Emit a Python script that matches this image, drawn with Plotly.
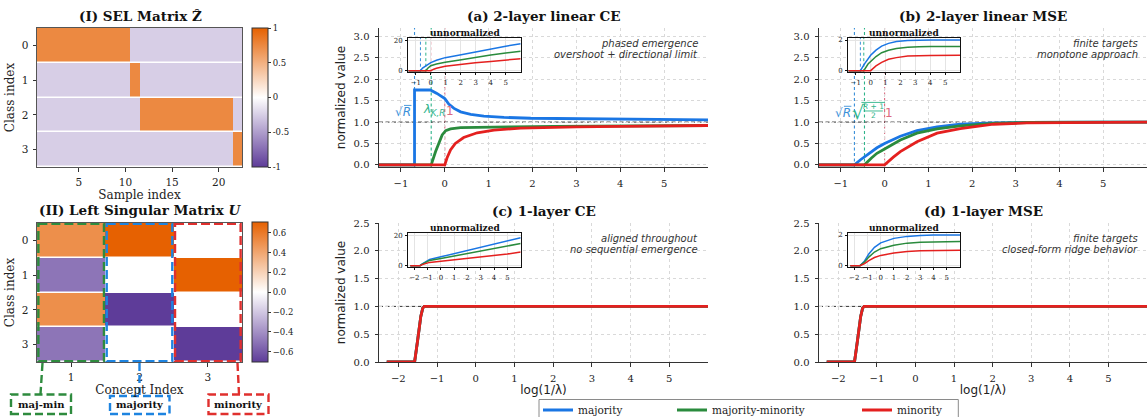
import plotly.graph_objects as go

W, H = 1147, 417
SERIF = "DejaVu Serif"
SANS = "DejaVu Sans"

BLUE, GREEN, RED = "#1a76e4", "#2a8b3d", "#e4201f"
BLUE_REF, GREEN_REF, RED_REF = "#3a8fd8", "#2fb48a", "#dc6a80"
BOX_GREEN, BOX_BLUE, BOX_RED = "#2e8b3e", "#1e84e0", "#e0302e"

# ---------------- data ----------------
sample_idx = list(range(1, 23))
class_idx = [0, 1, 2, 3]
concept_idx = [1, 2, 3]

sel_row0 = [0.75, 0.75, 0.75, 0.75, 0.75, 0.75, 0.75, 0.75, 0.75, 0.75, -0.25,
            -0.25, -0.25, -0.25, -0.25, -0.25, -0.25, -0.25, -0.25, -0.25, -0.25, -0.25]
sel_row1 = [-0.25, -0.25, -0.25, -0.25, -0.25, -0.25, -0.25, -0.25, -0.25, -0.25, 0.75,
            -0.25, -0.25, -0.25, -0.25, -0.25, -0.25, -0.25, -0.25, -0.25, -0.25, -0.25]
sel_row2 = [-0.25, -0.25, -0.25, -0.25, -0.25, -0.25, -0.25, -0.25, -0.25, -0.25, -0.25,
            0.75, 0.75, 0.75, 0.75, 0.75, 0.75, 0.75, 0.75, 0.75, 0.75, -0.25]
sel_row3 = [-0.25, -0.25, -0.25, -0.25, -0.25, -0.25, -0.25, -0.25, -0.25, -0.25, -0.25,
            -0.25, -0.25, -0.25, -0.25, -0.25, -0.25, -0.25, -0.25, -0.25, -0.25, 0.75]

u_maj_min = [0.5, -0.5, 0.5, -0.5]
u_majority = [0.707, 0.0, -0.707, 0.0]
u_minority = [0.0, 0.707, 0.0, -0.707]

series_names = ["majority", "majority-minority", "minority"]

# (a) 2-layer linear CE, normalized
ce2_maj_x = [-1.5, -0.69, -0.69, -0.33, -0.18, 0.0, 0.09, 0.21, 0.36, 0.59, 0.89, 1.35, 1.96, 3.0, 4.0, 5.0, 6.0]
ce2_maj_y = [0, 0, 1.75, 1.75, 1.67, 1.55, 1.42, 1.32, 1.24, 1.18, 1.14, 1.11, 1.09, 1.08, 1.07, 1.06, 1.05]
ce2_mix_x = [-1.5, -0.31, -0.21, -0.13, -0.06, 0.02, 0.13, 0.36, 0.8, 1.5, 2.5, 4.0, 6.0]
ce2_mix_y = [0, 0, 0.31, 0.54, 0.70, 0.80, 0.84, 0.87, 0.88, 0.89, 0.90, 0.91, 0.92]
ce2_min_x = [-1.5, 0.0, 0.05, 0.13, 0.24, 0.43, 0.74, 1.12, 1.73, 2.5, 3.0, 4.0, 5.0, 6.0]
ce2_min_y = [0, 0, 0.16, 0.35, 0.50, 0.64, 0.75, 0.81, 0.86, 0.88, 0.89, 0.90, 0.91, 0.92]
ce2_thresholds = [-0.69, -0.31, 0.0]

# (a) inset, unnormalized
ce2u_maj_x = [-1.5, -0.69, -0.55, -0.4, -0.2, 0.0, 0.38, 0.96, 1.94, 2.97, 4.0, 5.0, 6.0]
ce2u_maj_y = [0, 0, 1.8, 2.9, 4.3, 5.4, 7.0, 8.7, 10.4, 12.5, 14.5, 16.3, 18.0]
ce2u_mix_x = [-1.5, -0.33, -0.2, 0.0, 0.38, 0.96, 1.94, 2.97, 4.0, 5.0, 6.0]
ce2u_mix_y = [0, 0, 1.6, 3.3, 4.4, 5.6, 7.1, 8.9, 10.4, 11.8, 12.9]
ce2u_min_x = [-1.5, 0.0, 0.2, 0.38, 0.96, 1.94, 2.97, 4.0, 5.0, 6.0]
ce2u_min_y = [0, 0, 1.0, 1.6, 2.9, 4.2, 5.3, 6.2, 7.1, 8.0]
ce2u_thresholds = [-0.69, -0.33, 0.0]

# (b) 2-layer linear MSE, normalized
mse2_maj_x = [-1.5, -0.69, -0.55, -0.40, -0.175, 0.0, 0.36, 0.74, 1.2, 1.73, 2.49, 3.25, 4.0, 5.0, 6.0]
mse2_maj_y = [0, 0, 0.12, 0.23, 0.40, 0.50, 0.67, 0.80, 0.89, 0.95, 0.98, 0.99, 1.0, 1.0, 1.0]
mse2_mix_x = [-1.5, -0.46, -0.3, -0.175, 0.0, 0.36, 0.74, 1.2, 1.73, 2.49, 3.25, 4.0, 5.0, 6.0]
mse2_mix_y = [0, 0, 0.16, 0.27, 0.37, 0.58, 0.74, 0.84, 0.91, 0.97, 0.99, 1.0, 1.0, 1.0]
mse2_min_x = [-1.5, 0.0, 0.2, 0.36, 0.74, 1.2, 1.73, 2.49, 3.25, 4.0, 5.0, 6.0]
mse2_min_y = [0, 0, 0.18, 0.31, 0.54, 0.74, 0.85, 0.95, 0.98, 0.99, 1.0, 1.0]
mse2_thresholds = [-0.69, -0.46, 0.0]

# (b) inset, unnormalized
mse2u_maj_x = [-1.5, -0.69, -0.4, -0.175, 0.0, 0.36, 0.74, 1.2, 1.73, 2.49, 3.25, 4.0, 6.0]
mse2u_maj_y = [0, 0, 0.46, 0.80, 1.0, 1.34, 1.6, 1.78, 1.9, 1.96, 1.98, 2.0, 2.0]
mse2u_mix_x = [-1.5, -0.46, -0.175, 0.0, 0.36, 0.74, 1.2, 1.73, 2.49, 3.25, 4.0, 6.0]
mse2u_mix_y = [0, 0, 0.43, 0.58, 0.92, 1.17, 1.33, 1.44, 1.53, 1.56, 1.58, 1.58]
mse2u_min_x = [-1.5, 0.0, 0.36, 0.74, 1.2, 1.73, 2.49, 3.25, 4.0, 6.0]
mse2u_min_y = [0, 0, 0.31, 0.54, 0.74, 0.85, 0.95, 0.98, 0.99, 1.0]

# (c) 1-layer CE and (d) 1-layer MSE, normalized (all three coincide)
ce1_x = [-2.3, -1.58, -1.5, -1.42, -1.37, -1.33, 6.0]
ce1_maj_y = [0, 0, 0.40, 0.82, 0.97, 1.0, 1.0]
ce1_mix_y = [0, 0, 0.40, 0.82, 0.97, 1.0, 1.0]
ce1_min_y = [0, 0, 0.40, 0.82, 0.97, 1.0, 1.0]
mse1_x = [-2.3, -1.58, -1.5, -1.42, -1.37, -1.33, 6.0]
mse1_maj_y = [0, 0, 0.40, 0.82, 0.97, 1.0, 1.0]
mse1_mix_y = [0, 0, 0.40, 0.82, 0.97, 1.0, 1.0]
mse1_min_y = [0, 0, 0.40, 0.82, 0.97, 1.0, 1.0]

# (c) inset, unnormalized
ce1u_x = [-2.3, -1.57, -1.4, -1.11, -0.85, 0.0, 1.0, 2.0, 3.0, 4.0, 5.0, 6.0]
ce1u_maj_y = [0, 0, 1.2, 3.0, 4.1, 5.9, 8.0, 10.0, 12.2, 14.3, 16.5, 18.7]
ce1u_mix_y = [0, 0, 1.0, 2.6, 3.5, 4.8, 6.5, 8.3, 10.0, 11.5, 13.3, 14.8]
ce1u_min_y = [0, 0, 0.7, 1.7, 2.2, 3.0, 3.9, 4.8, 5.7, 6.7, 7.8, 9.1]

# (d) inset, unnormalized
mse1u_x = [-2.3, -1.57, -1.22, -0.9, -0.47, 0.0, 1.0, 2.0, 3.0, 4.0, 6.0]
mse1u_maj_y = [0, 0, 0.31, 0.76, 1.2, 1.49, 1.78, 1.91, 1.97, 2.0, 2.0]
mse1u_mix_y = [0, 0, 0.24, 0.56, 0.89, 1.11, 1.33, 1.47, 1.53, 1.56, 1.58]
mse1u_min_y = [0, 0, 0.13, 0.33, 0.53, 0.67, 0.82, 0.93, 0.98, 1.0, 1.0]

cb1_vals = [1, 0.5, 0, -0.5, -1]
cb1_text = ["1", "0.5", "0", "-0.5", "-1"]
cb2_vals = [0.6, 0.4, 0.2, 0.0, -0.2, -0.4, -0.6]
cb2_text = ["0.6", "0.4", "0.2", "0.0", "\u22120.2", "\u22120.4", "\u22120.6"]


# ---------------- helpers ----------------
def fx(p):
    return p / W


def fy(p):
    return 1 - p / H


PUOR = [[0.0, "#5e3c99"], [0.5, "#ffffff"], [1.0, "#e66101"]]
fig = go.Figure()
shapes = []
annotations = []


def colorbar(top, bottom, vals, text):
    return dict(x=fx(252), xanchor="left", y=fy((top + bottom) / 2), yanchor="middle",
                len=(bottom - top) / H, lenmode="fraction", thickness=16, thicknessmode="pixels",
                xpad=0, ypad=0, outlinewidth=1, outlinecolor="#333", tickvals=vals, ticktext=text,
                ticks="outside", ticklen=3, tickcolor="#333",
                tickfont=dict(family=SERIF, size=8.5, color="#222"))


fig.add_trace(go.Heatmap(z=[sel_row0, sel_row1, sel_row2, sel_row3], x=sample_idx, y=class_idx,
                         zmin=-1, zmax=1, colorscale=PUOR, ygap=1.5, xaxis="x", yaxis="y",
                         colorbar=colorbar(28, 167, cb1_vals, cb1_text), hoverinfo="skip"))

u_rows = [[u_maj_min[i], u_majority[i], u_minority[i]] for i in range(4)]
fig.add_trace(go.Heatmap(z=u_rows, x=concept_idx, y=class_idx, zmin=-0.707, zmax=0.707,
                         colorscale=PUOR, ygap=1.5, xaxis="x2", yaxis="y2",
                         colorbar=colorbar(222.5, 362, cb2_vals, cb2_text), hoverinfo="skip"))

legend_ids = ["legend", "legend2", "legend3"]


def add_lines(n, xs, ys, width, legend=False):
    for i, (name, color, x, y) in enumerate(zip(series_names, [BLUE, GREEN, RED], xs, ys)):
        fig.add_trace(go.Scatter(x=x, y=y, mode="lines", name=name, showlegend=legend,
                                 legend=legend_ids[i],
                                 line=dict(color=color, width=width),
                                 xaxis=f"x{n}", yaxis=f"y{n}", hoverinfo="skip"))


# main panels
add_lines(3, [ce2_maj_x, ce2_mix_x, ce2_min_x], [ce2_maj_y, ce2_mix_y, ce2_min_y], 2.8, legend=True)
add_lines(4, [mse2_maj_x, mse2_mix_x, mse2_min_x], [mse2_maj_y, mse2_mix_y, mse2_min_y], 2.8)
add_lines(5, [ce1_x, ce1_x, ce1_x], [ce1_maj_y, ce1_mix_y, ce1_min_y], 2.8)
add_lines(6, [mse1_x, mse1_x, mse1_x], [mse1_maj_y, mse1_mix_y, mse1_min_y], 2.8)
# insets
add_lines(7, [ce2u_maj_x, ce2u_mix_x, ce2u_min_x], [ce2u_maj_y, ce2u_mix_y, ce2u_min_y], 1.5)
add_lines(8, [mse2u_maj_x, mse2u_mix_x, mse2u_min_x], [mse2u_maj_y, mse2u_mix_y, mse2u_min_y], 1.5)
add_lines(9, [ce1u_x, ce1u_x, ce1u_x], [ce1u_maj_y, ce1u_mix_y, ce1u_min_y], 1.5)
add_lines(10, [mse1u_x, mse1u_x, mse1u_x], [mse1u_maj_y, mse1u_mix_y, mse1u_min_y], 1.5)

# ---------------- axes ----------------
layout = dict(width=W, height=H, margin=dict(l=0, r=0, t=0, b=0, autoexpand=False),
              paper_bgcolor="white", plot_bgcolor="white",
              font=dict(family=SERIF, size=10, color="#222"))

heat_common = dict(showline=True, mirror=True, linecolor="#555", linewidth=1, ticks="outside",
                   ticklen=3.5, tickcolor="#333", showgrid=False, zeroline=False, ticklabelstandoff=2,
                   tickfont=dict(family=SERIF, size=10.5, color="#222"))
layout["xaxis"] = dict(domain=[fx(37), fx(242)], range=[0.5, 22.5], tickvals=[5, 10, 15, 20],
                       anchor="y", title=dict(text="Sample index", standoff=1,
                                              font=dict(family=SERIF, size=12)), **heat_common)
layout["yaxis"] = dict(domain=[fy(167), fy(28)], range=[3.5, -0.5], tickvals=class_idx, anchor="x",
                       title=dict(text="Class index", standoff=4, font=dict(family=SERIF, size=12)),
                       **heat_common)
layout["xaxis2"] = dict(domain=[fx(37), fx(242)], range=[0.5, 3.5], tickvals=concept_idx, anchor="y2",
                        title=dict(text="Concept Index", standoff=1, font=dict(family=SERIF, size=12)),
                        **heat_common)
layout["yaxis2"] = dict(domain=[fy(362), fy(223)], range=[3.5, -0.5], tickvals=class_idx, anchor="x2",
                        title=dict(text="Class index", standoff=4, font=dict(family=SERIF, size=12)),
                        **heat_common)

main_common = dict(showline=True, mirror=False, linecolor="#333", linewidth=1, ticks="outside",
                   ticklen=3.5, tickcolor="#333", showgrid=True, gridcolor="#d9d9d9", gridwidth=0.8,
                   griddash="dot", zeroline=False, ticklabelstandoff=3,
                   tickfont=dict(family=SERIF, size=10, color="#222"))
top_y = [fy(167), fy(28)]
bot_y = [fy(362), fy(223)]
left_x = [fx(379), fx(708)]
right_x = [fx(819), fx(1147)]
ttl_y = dict(text="normalized value", standoff=5, font=dict(family=SANS, size=12, color="#222"))
ttl_x = dict(text="log(1/\u03bb)", standoff=1, font=dict(family=SANS, size=12, color="#222"))

for n, xd, yd, xr, yr, xt, yt, has_yt, has_xt in [
    (3, left_x, top_y, [-1.5, 6.0], [-0.05, 3.2], [-1, 0, 1, 2, 3, 4, 5], [0, 0.5, 1, 1.5, 2, 2.5, 3], True, False),
    (4, right_x, top_y, [-1.5, 6.0], [-0.05, 3.2], [-1, 0, 1, 2, 3, 4, 5], [0, 0.5, 1, 1.5, 2, 2.5, 3], False, False),
    (5, left_x, bot_y, [-2.5, 6.0], [0, 2.5], [-2, -1, 0, 1, 2, 3, 4, 5], [0, 0.5, 1, 1.5, 2, 2.5], True, True),
    (6, right_x, bot_y, [-2.5, 6.0], [0, 2.5], [-2, -1, 0, 1, 2, 3, 4, 5], [0, 0.5, 1, 1.5, 2, 2.5], False, True),
]:
    layout[f"xaxis{n}"] = dict(domain=xd, range=xr, tickvals=xt, anchor=f"y{n}", **main_common)
    layout[f"yaxis{n}"] = dict(domain=yd, range=yr, tickvals=yt, tickformat=".1f", anchor=f"x{n}",
                               **main_common)
    if has_yt:
        layout[f"yaxis{n}"]["title"] = ttl_y
    if has_xt:
        layout[f"xaxis{n}"]["title"] = ttl_x

inset_common = dict(showline=True, mirror=True, linecolor="#111", linewidth=1.3, ticks="outside",
                    ticklen=2, tickcolor="#111", showgrid=True, gridcolor="#e4e4e4", gridwidth=0.6,
                    zeroline=False, ticklabelstandoff=1, tickfont=dict(family=SERIF, size=7, color="#222"))
ins_x_l = [fx(408.3), fx(520.7)]
ins_x_r = [fx(848.3), fx(960)]
ins_y_t = [fy(72.2), fy(37.7)]
ins_y_b = [fy(267.2), fy(232.7)]
inset_specs = [
    (7, ins_x_l, ins_y_t, [-1.5, 6.0], [-1.0, 22.0], [-1, 0, 1, 2, 3, 4, 5], [0, 20]),
    (8, ins_x_r, ins_y_t, [-1.5, 6.0], [-0.1, 2.15], [-1, 0, 1, 2, 3, 4, 5], [0, 2]),
    (9, ins_x_l, ins_y_b, [-2.45, 6.0], [-1.0, 22.0], [-2, -1, 0, 1, 2, 3, 4, 5], [0, 20]),
    (10, ins_x_r, ins_y_b, [-2.45, 6.0], [-0.1, 2.15], [-2, -1, 0, 1, 2, 3, 4, 5], [0, 2]),
]
for n, xd, yd, xr, yr, xt, yt in inset_specs:
    layout[f"xaxis{n}"] = dict(domain=xd, range=xr, tickvals=xt, anchor=f"y{n}", **inset_common)
    layout[f"yaxis{n}"] = dict(domain=yd, range=yr, tickvals=yt, anchor=f"x{n}", **inset_common)
    # opaque inset background over the host panel
    shapes.append(dict(type="rect", xref=f"x{n}", yref=f"y{n}", x0=xr[0], x1=xr[1], y0=yr[0], y1=yr[1],
                       fillcolor="white", line=dict(width=0), layer="below"))


# ---------------- reference lines ----------------
def vline(n, x, y0, y1, color, width=1.1):
    shapes.append(dict(type="line", xref=f"x{n}", yref=f"y{n}", x0=x, x1=x, y0=y0, y1=y1,
                       line=dict(color=color, width=width, dash="3px,2.5px"), layer="below"))


for x, c in zip(ce2_thresholds, [BLUE_REF, GREEN_REF, RED_REF]):
    vline(3, x, -0.05, 3.2, c)
for x, c in zip(mse2_thresholds, [BLUE_REF, GREEN_REF, RED_REF]):
    vline(4, x, -0.05, 3.2, c)
for x, c in zip(ce2u_thresholds, [BLUE_REF, GREEN_REF, RED_REF]):
    vline(7, x, -1.0, 22.0, c, 1.0)
for x, c in zip(mse2_thresholds, [BLUE_REF, GREEN_REF, RED_REF]):
    vline(8, x, -0.1, 2.15, c, 1.0)

for n, x0 in [(3, -1.5), (4, -1.5), (5, -2.5), (6, -2.5)]:
    shapes.append(dict(type="line", xref=f"x{n}", yref=f"y{n}", x0=x0, x1=6.0, y0=1, y1=1,
                       line=dict(color="#333", width=1, dash="4px,2.5px"), layer="below"))

# dashed boxes around the columns of U
for x0, x1, c in [(0.52, 1.48, BOX_GREEN), (1.52, 2.48, BOX_BLUE), (2.52, 3.48, BOX_RED)]:
    shapes.append(dict(type="rect", xref="x2", yref="y2", x0=x0, x1=x1, y0=-0.48, y1=3.48,
                       line=dict(color=c, width=2.4, dash="9px,4px"), layer="above"))
# leader lines and label boxes
for (lx0, ly0, lx1, ly1), (bx0, by0, bx1, by1), c in [
    ((42.5, 363, 40.5, 394), (11, 394.5, 71, 414), BOX_GREEN),
    ((139.5, 363, 139.5, 396), (110, 396, 169.5, 414), BOX_BLUE),
    ((237.5, 363, 239, 394), (208.5, 394.5, 268.5, 414), BOX_RED),
]:
    shapes.append(dict(type="line", xref="paper", yref="paper", x0=fx(lx0), y0=fy(ly0), x1=fx(lx1),
                       y1=fy(ly1), line=dict(color=c, width=2.4, dash="8px,4px"), layer="above"))
    shapes.append(dict(type="rect", xref="paper", yref="paper", x0=fx(bx0), y0=fy(by1), x1=fx(bx1),
                       y1=fy(by0), fillcolor="white", line=dict(color=c, width=2.4, dash="8px,4px"),
                       layer="above"))

# frame of the shared legend row
shapes.append(dict(type="rect", xref="paper", yref="paper", x0=fx(539), x1=fx(958.3), y0=fy(430),
                   y1=fy(399.5), line=dict(color="#8a8a8a", width=1), fillcolor="white", layer="below"))


# ---------------- text ----------------
def note(xp, yp, text, size, family=SERIF, color="#111", xanchor="center"):
    annotations.append(dict(x=fx(xp), y=fy(yp), xref="paper", yref="paper", text=text, showarrow=False,
                            xanchor=xanchor, yanchor="middle", font=dict(family=family, size=size, color=color)))


note(140, 16, "<b>(I) SEL Matrix \u1e90</b>", 13.5)
note(140, 210, "<b>(II) Left Singular Matrix <i>U</i></b>", 13.5)
note(543.5, 16.5, "<b>(a) 2-layer linear CE</b>", 13.5)
note(983, 16.5, "<b>(b) 2-layer linear MSE</b>", 13.5)
note(543.5, 211.5, "<b>(c) 1-layer CE</b>", 13.5)
note(983, 211.5, "<b>(d) 1-layer MSE</b>", 13.5)
for xc, yc in [(464.5, 33), (904, 33), (464.5, 228), (904, 228)]:
    note(xc, yc, "<b>unnormalized</b>", 9)

for xr_, y1, y2, t1, t2 in [
    (700, 43.5, 54.5, "phased emergence", "overshoot + directional limit"),
    (1140, 43.5, 54.5, "finite targets", "monotone approach"),
    (700, 238.5, 249.5, "aligned throughout", "no sequential emergence"),
    (1140, 238.5, 249.5, "finite targets", "closed-form ridge behavior"),
]:
    note(xr_, y1, f"<i>{t1}</i>", 10, SANS, "#333", "right")
    note(xr_, y2, f"<i>{t2}</i>", 10, SANS, "#333", "right")

for lab, xc in [("maj-min", 41), ("majority", 139.8), ("minority", 238.5)]:
    note(xc, 404.5, f"<b>{lab}</b>", 10)


def dnote(n, x, y, text, size, color):
    annotations.append(dict(x=x, y=y, xref=f"x{n}", yref=f"y{n}", text=text, showarrow=False,
                            xanchor="center", yanchor="middle",
                            font=dict(family=SANS, size=size, color=color)))


def dline(n, x0, x1, y, color):
    shapes.append(dict(type="line", xref=f"x{n}", yref=f"y{n}", x0=x0, x1=x1, y0=y, y1=y,
                       line=dict(color=color, width=0.9), layer="above"))


# threshold labels in (a)
dnote(3, -0.96, 1.24, "\u221a<i>R</i>", 12, BLUE_REF)
dline(3, -0.93, -0.76, 1.39, BLUE_REF)
dnote(3, -0.25, 1.28, "<i>\u03bb</i><sub><i>K,R</i></sub>", 12, GREEN_REF)
dnote(3, 0.11, 1.26, "1", 12, RED_REF)
# threshold labels in (b)
dnote(4, -0.96, 1.22, "\u221a<i>R</i>", 12, BLUE_REF)
dline(4, -0.93, -0.76, 1.37, BLUE_REF)
dnote(4, -0.60, 1.24, "\u221a", 19, GREEN_REF)
dline(4, -0.53, 0.01, 1.46, GREEN_REF)
dnote(4, -0.26, 1.36, "<i>R</i> + 1", 7.5, GREEN_REF)
dline(4, -0.48, -0.04, 1.26, GREEN_REF)
dnote(4, -0.26, 1.15, "2", 7.5, GREEN_REF)
dnote(4, 0.11, 1.21, "1", 12, RED_REF)

layout["shapes"] = shapes
layout["annotations"] = annotations
legend_common = dict(orientation="h", yanchor="middle", y=fy(410), xanchor="left",
                     borderwidth=0, bgcolor="rgba(0,0,0,0)", itemwidth=30,
                     font=dict(family=SERIF, size=10.5, color="#222"))
layout["legend"] = dict(x=fx(538), **legend_common)
layout["legend2"] = dict(x=fx(672), **legend_common)
layout["legend3"] = dict(x=fx(857), **legend_common)
fig.update_layout(**layout)
fig.write_html("out.html")
